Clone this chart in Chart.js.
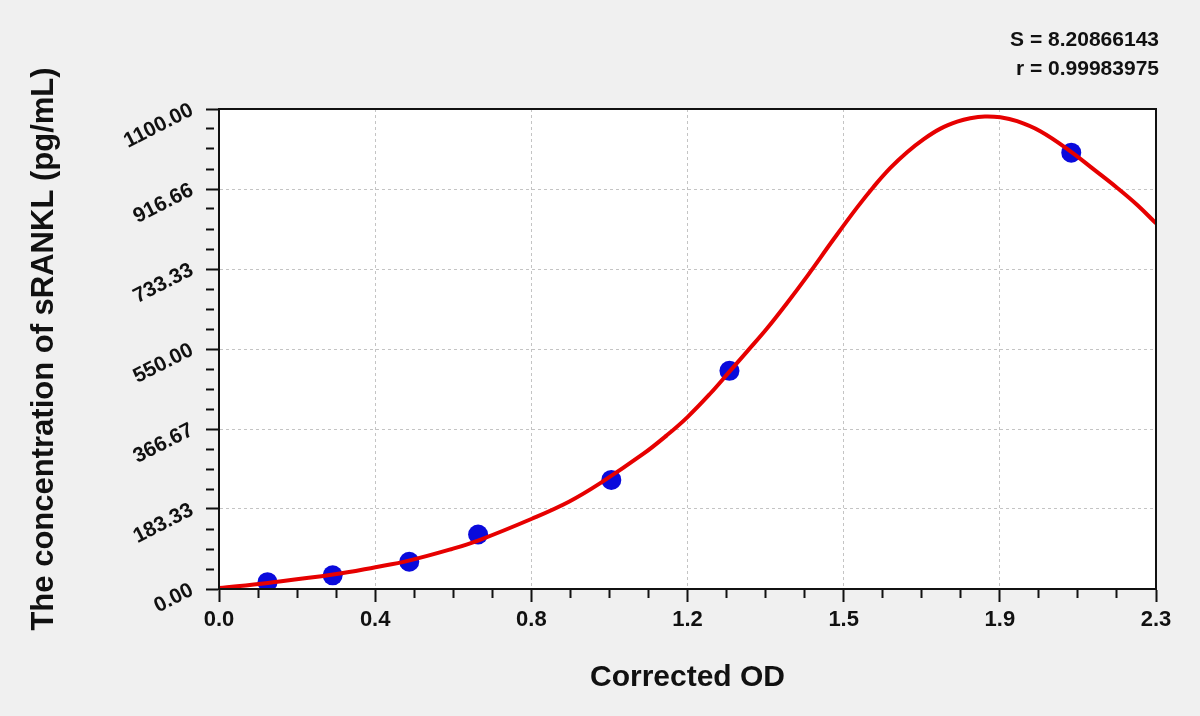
<!DOCTYPE html>
<html>
<head>
<meta charset="utf-8">
<title>sRANKL standard curve</title>
<script src="https://cdn.jsdelivr.net/npm/chart.js@4/dist/chart.umd.min.js"></script>
<style>
  html,body{margin:0;padding:0;background:#f0f0f0}
  #wrap{width:1200px;height:716px}
</style>
</head>
<body>
<div id="wrap"><canvas id="c"></canvas></div>
<script>
// --- data
const stdOD   = [0.119, 0.279, 0.467, 0.636, 0.963, 1.253, 2.092];
const stdConc = [15.63, 31.25, 62.5, 125, 250, 500, 1000];

// fitted curve, sampled by eye along the red line
const fitOD   = [0, 0.12, 0.28, 0.384, 0.466, 0.573, 0.636, 0.768, 0.859, 0.935, 1.042, 1.099, 1.15, 1.206, 1.253, 1.296, 1.345, 1.394, 1.443, 1.509, 1.566, 1.607, 1.648, 1.689, 1.73, 1.771, 1.812, 1.844, 1.88, 1.918, 1.959, 2.016, 2.09, 2.148, 2.205, 2.254, 2.3];
const fitConc = [2, 14, 33, 50, 65, 92, 111, 161, 200, 242, 310, 352, 394, 448, 498, 544, 597, 655, 716, 802, 874, 922, 965, 1001, 1031, 1055, 1071, 1079, 1083, 1081, 1072, 1049, 1003, 961, 919, 880, 838];

const xTickLabels = ['0.0','0.4','0.8','1.2','1.5','1.9','2.3'];
const yTickLabels = ['0.00','183.33','366.67','550.00','733.33','916.66','1100.00'];
const xMax = 2.3, yMax = 1100;
const SUB = 4; // minor divisions per major step
const stats = ['S = 8.20866143', 'r = 0.99983975'];

const FONT = '"Liberation Sans", Arial, sans-serif';
const isMajor = c => c.index % SUB === 0;

function ticksFor(max){ // 6 major steps, 4 minor each
  const n = (yTickLabels.length-1)*SUB;
  return Array.from({length:n+1}, (_,i)=>({value:max*i/n}));
}

// white plot area, frame, fit stats
const frame = {
  id:'frame',
  beforeDraw(ch){
    const a=ch.chartArea, g=ch.ctx;
    g.save(); g.fillStyle='#fff'; g.fillRect(a.left,a.top,a.right-a.left,a.bottom-a.top); g.restore();
  },
  afterDatasetsDraw(ch){
    const a=ch.chartArea, g=ch.ctx;
    g.save(); g.strokeStyle='#111'; g.lineWidth=2;
    g.strokeRect(a.left,a.top,a.right-a.left,a.bottom-a.top);
    g.restore();
  },
  afterDraw(ch){
    const g=ch.ctx;
    g.save(); g.fillStyle='#111'; g.font='bold 21px '+FONT;
    g.textAlign='right'; g.textBaseline='middle';
    stats.forEach((s,i)=>g.fillText(s, 1159, 40+i*29));
    g.restore();
  }
};

const gridOpts = {
  color: c => isMajor(c) ? '#c4c4c4' : 'rgba(0,0,0,0)',
  lineWidth: 1,
  tickColor: '#111',
  tickWidth: 2,
  tickLength: 13,
  tickBorderDash: c => isMajor(c) ? [] : [8, 40]
};

new Chart(document.getElementById('c'), {
  type:'scatter',
  data:{
    datasets:[
      { label:'fit', data: fitOD.map((x,i)=>({x, y:fitConc[i]})), showLine:true,
        borderColor:'#e60000', borderWidth:4, pointRadius:0, tension:0.4, order:0 },
      { label:'standards', data: stdOD.map((x,i)=>({x, y:stdConc[i]})),
        backgroundColor:'#0a0adc', borderWidth:0, pointRadius:10, order:1 }
    ]
  },
  options:{
    responsive:true, maintainAspectRatio:false, animation:false,
    layout:{padding:{left:0, top:109, right:44, bottom:0}},
    plugins:{legend:{display:false}, tooltip:{enabled:false}},
    scales:{
      x:{
        type:'linear', min:0, max:xMax,
        afterBuildTicks: s => { s.ticks = ticksFor(xMax); },
        afterFit: s => { s.height = 127; },
        grid: gridOpts,
        border:{display:true, color:'#111', width:2, dash:[3,3]},
        ticks:{ autoSkip:false, maxRotation:0, padding:5, color:'#111',
          font:{family:FONT, size:22, weight:'bold'},
          callback:(v,i)=> i%SUB===0 ? xTickLabels[i/SUB] : '' },
        title:{ display:true, text:'Corrected OD', color:'#111',
          font:{family:FONT, size:30, weight:'bold'}, padding:{top:0, bottom:20} }
      },
      y:{
        type:'linear', min:0, max:yMax,
        afterBuildTicks: s => { s.ticks = ticksFor(yMax); },
        afterFit: s => { s.width = 219; },
        grid: gridOpts,
        border:{display:true, color:'#111', width:2, dash:[3,3]},
        ticks:{ autoSkip:false, minRotation:27, maxRotation:27, padding:14, color:'#111',
          font:{family:FONT, size:21, weight:'bold'},
          callback:(v,i)=> i%SUB===0 ? yTickLabels[i/SUB] : '' },
        title:{ display:true, text:'The concentration of sRANKL (pg/mL)', color:'#111',
          font:{family:FONT, size:31, weight:'bold'}, padding:{top:26, bottom:0} }
      }
    }
  },
  plugins:[frame]
});
</script>
</body>
</html>
